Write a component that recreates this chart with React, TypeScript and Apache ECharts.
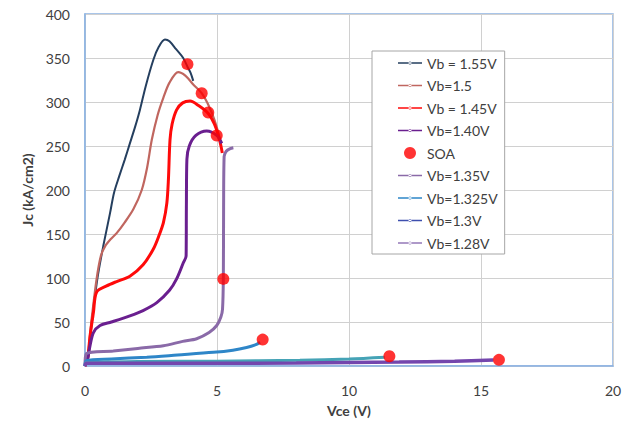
import React, { useEffect, useRef } from "react";
import * as echarts from "echarts";

const xTicks = [0, 5, 10, 15, 20];
const yTicks = [0, 50, 100, 150, 200, 250, 300, 350, 400];

const vb155: [number, number][] = [
  [0, 0], [0.1, 6], [0.19, 31], [0.3, 60], [0.38, 80], [0.5, 105], [0.69, 136], [0.95, 174],
  [1.1, 197], [1.3, 216], [1.5, 234], [1.7, 253], [1.9, 272], [2.08, 291], [2.3, 318],
  [2.59, 348], [2.8, 363], [3.03, 371], [3.2, 369], [3.45, 360], [3.72, 350], [3.88, 340],
  [4.0, 333], [4.1, 324],
];
const vb150: [number, number][] = [
  [0, 0], [0.1, 10], [0.25, 53], [0.44, 99], [0.6, 125], [0.76, 136], [1.0, 145], [1.2, 151],
  [1.5, 163], [1.83, 178], [2.15, 200], [2.35, 225], [2.53, 257], [2.75, 285], [2.97, 305],
  [3.2, 322], [3.53, 334], [3.8, 330], [4.1, 320], [4.42, 310], [4.7, 295], [4.9, 280],
  [5.05, 265], [5.15, 252],
];
const vb145: [number, number][] = [
  [0, 0], [0.1, 8], [0.19, 34], [0.32, 61], [0.44, 84], [0.82, 91], [1.2, 96], [1.7, 102],
  [2.2, 115], [2.59, 133], [2.8, 148], [2.97, 163], [3.1, 185], [3.16, 212], [3.22, 257],
  [3.3, 275], [3.47, 291], [3.7, 299], [3.98, 301], [4.3, 296], [4.67, 287], [4.9, 275],
  [5.05, 262], [5.15, 250], [5.2, 242],
];
const vb140: [number, number][] = [
  [0, 0], [0.1, 8], [0.19, 23], [0.32, 38], [0.57, 46], [1.0, 50], [1.7, 57], [2.2, 63],
  [2.72, 72], [3.2, 86], [3.47, 99], [3.72, 117], [3.83, 125], [3.84, 180], [3.86, 235],
  [3.95, 250], [4.2, 262], [4.61, 267], [4.99, 262], [5.18, 253],
];
const vb135: [number, number][] = [
  [0, 0], [0.05, 14], [1.07, 17], [2.0, 20], [2.97, 23], [3.7, 28], [4.23, 31], [4.7, 38],
  [4.99, 46], [5.15, 56], [5.21, 65], [5.24, 100], [5.25, 180], [5.27, 238], [5.35, 244],
  [5.5, 247], [5.62, 248],
];
const vb1325: [number, number][] = [
  [0, 0], [0.05, 6], [1, 8], [2.34, 10], [3.5, 12.5], [4.86, 15.5], [5.6, 18], [6.12, 21],
  [6.45, 24], [6.63, 27],
];
const vb130: [number, number][] = [
  [0, 0], [0.05, 4], [2, 5], [5, 5.5], [8.14, 6.5], [10, 8], [11.36, 10],
];
const vb128: [number, number][] = [
  [0, 0], [0.05, 3], [4.36, 3], [8, 3.5], [11.9, 4.5], [14, 5.5], [15.47, 6.8],
];
const soa: [number, number][] = [
  [3.88, 343], [4.42, 310], [4.67, 288], [4.99, 262], [5.24, 99], [6.73, 30], [11.53, 11],
  [15.68, 7],
];

const names = [
  "Vb = 1.55V", "Vb=1.5", "Vb = 1.45V", "Vb=1.40V", "SOA",
  "Vb=1.35V", "Vb=1.325V", "Vb=1.3V", "Vb=1.28V",
];

const lineIcon =
  "path://M0,0.8H24V2.2H0Z M10.5,1.5a1.5,1.5 0 1,0 3,0a1.5,1.5 0 1,0 -3,0Z";

const FONT = "Lato, 'Open Sans', sans-serif";

export default function App() {
  const ref = useRef<HTMLDivElement>(null);
  useEffect(() => {
    if (!ref.current) return;
    const chart = echarts.init(ref.current, null, { renderer: "svg" });
    const mkLine = (name: string, data: [number, number][], color: string, width: number, z = 2) => ({
      name,
      type: "line",
      data,
      smooth: 0.3,
      showSymbol: false,
      symbol: "circle",
      z,
      itemStyle: { color },
      lineStyle: { color, width },
    });
    chart.setOption({
      animation: false,
      backgroundColor: "#ffffff",
      grid: {
        left: 85, right: 12, top: 14, bottom: 55,
        show: true, borderColor: "#8db3e2", borderWidth: 1.5,
      },
      xAxis: {
        type: "value", min: xTicks[0], max: xTicks[xTicks.length - 1], interval: 5,
        name: "Vce (V)", nameLocation: "middle", nameGap: 37,
        nameTextStyle: { fontFamily: FONT, fontSize: 14, fontWeight: "bold", color: "#404040" },
        axisLine: { lineStyle: { color: "#8db3e2", width: 1.5 } },
        axisTick: { show: false },
        axisLabel: { fontFamily: FONT, fontSize: 14, color: "#404040", margin: 17 },
        splitLine: { lineStyle: { color: "#d0d0d0", width: 1 } },
      },
      yAxis: {
        type: "value", min: yTicks[0], max: yTicks[yTicks.length - 1], interval: 50,
        name: "Jc (kA/cm2)", nameLocation: "middle", nameGap: 39,
        nameTextStyle: { fontFamily: FONT, fontSize: 14, fontWeight: "bold", color: "#404040" },
        axisLine: { show: true, lineStyle: { color: "#8db3e2", width: 1.5 } },
        axisTick: { show: false },
        axisLabel: { fontFamily: FONT, fontSize: 14, color: "#404040", margin: 15 },
        splitLine: { lineStyle: { color: "#d0d0d0", width: 1 } },
      },
      legend: {
        orient: "vertical",
        left: 372, top: 51,
        padding: [4, 7, 3, 26],
        backgroundColor: "#ffffff",
        borderColor: "#a6a6a6", borderWidth: 1,
        itemWidth: 24, itemHeight: 12, itemGap: 6.5,
        textStyle: { fontFamily: FONT, fontSize: 14, color: "#404040", lineHeight: 16 },
        data: names.map((n) =>
          n === "SOA"
            ? { name: n, icon: "circle" }
            : n === "Vb=1.3V"
            ? { name: n, icon: lineIcon, itemStyle: { color: "#3e4fae", borderWidth: 0 } }
            : n === "Vb=1.28V"
            ? { name: n, icon: lineIcon, itemStyle: { color: "#9478b8", borderWidth: 0 } }
            : { name: n, icon: lineIcon, itemStyle: { borderWidth: 0 } }
        ),
      },
      series: [
        mkLine(names[0], vb155, "#253f5f", 2),
        mkLine(names[1], vb150, "#c0665f", 2.2),
        mkLine(names[2], vb145, "#ff0a0a", 3),
        mkLine(names[3], vb140, "#6a1f8f", 3),
        {
          name: names[4], type: "scatter", data: soa, symbol: "circle", symbolSize: 12, z: 5,
          itemStyle: { color: "#ff0000" },
        },
        mkLine(names[5], vb135, "#8a6aa8", 3),
        mkLine(names[6], vb1325, "#2e86c8", 3),
        mkLine(names[7], vb130, "#45a3b6", 3),
        mkLine(names[8], vb128, "#7446ad", 3.5),
      ],
    });
    return () => chart.dispose();
  }, []);
  return (
    <div
      ref={ref}
      style={{ position: "absolute", left: 0, top: 0, width: 625, height: 422 }}
    />
  );
}
